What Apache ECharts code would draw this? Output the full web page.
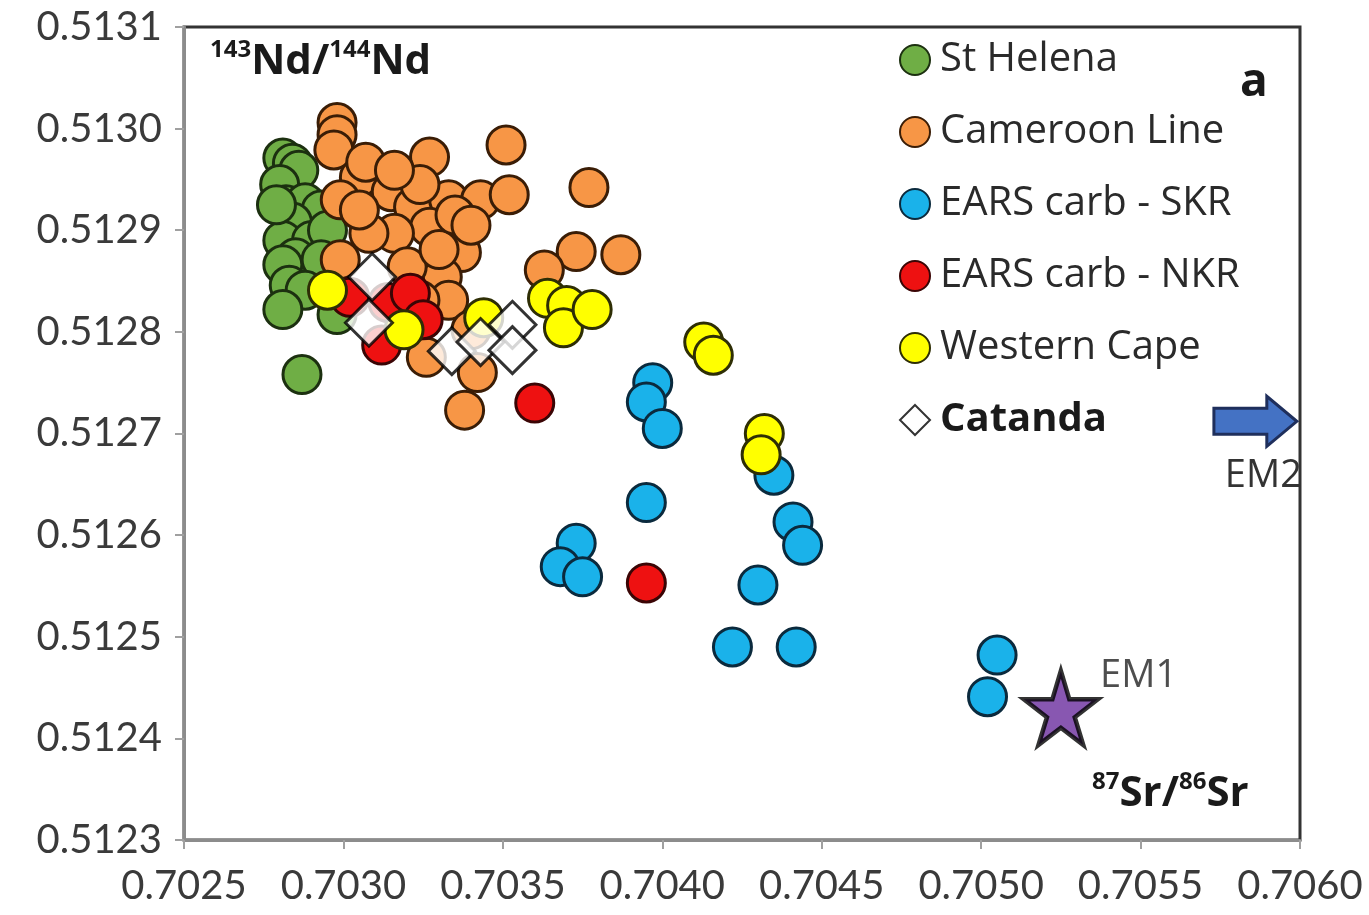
<!DOCTYPE html>
<html lang="en">
<head>
<meta charset="UTF-8">
<title>Sr-Nd isotopes</title>
<style>html,body{margin:0;background:#fff;}</style>
</head>
<body>
<div id="app" style="width:1369px;height:915px;"></div>
<script src="https://cdn.jsdelivr.net/npm/echarts@6/dist/echarts.min.js"></script>
<script>
// [87Sr/86Sr, 143Nd/144Nd]
const stHelena = [
  [0.70281,0.512971],[0.70284,0.512966],[0.70286,0.512959],[0.70280,0.512945],
  [0.70282,0.512925],[0.70288,0.512927],[0.70293,0.512920],[0.70284,0.512908],
  [0.70281,0.512890],[0.70290,0.512890],[0.70295,0.512900],[0.70285,0.512873],
  [0.70281,0.512866],[0.70293,0.512871],[0.70283,0.512846],[0.70288,0.512841],
  [0.70281,0.512822],[0.70298,0.512817],[0.70287,0.512758],[0.70279,0.512925]
];
const cameroonLine = [
  [0.70298,0.513006],[0.70298,0.512994],[0.70297,0.512979],[0.70305,0.512952],
  [0.70307,0.512967],[0.70315,0.512938],[0.70327,0.512972],[0.70299,0.512930],
  [0.70322,0.512923],[0.70333,0.512930],[0.70343,0.512930],[0.70327,0.512903],
  [0.70316,0.512897],[0.70308,0.512897],[0.70337,0.512878],[0.70331,0.512854],
  [0.70320,0.512864],[0.70299,0.512871],[0.70351,0.512984],[0.70352,0.512935],
  [0.70377,0.512942],[0.70373,0.512879],[0.70387,0.512876],[0.70363,0.512861],
  [0.70338,0.512723],[0.70326,0.512775],[0.70342,0.512760],[0.70333,0.512831],
  [0.70330,0.512881],[0.70324,0.512945],[0.70335,0.512915],[0.70316,0.512959],
  [0.70305,0.512920],[0.70340,0.512905],[0.70324,0.512831],[0.70340,0.512802]
];
const earsSKR = [
  [0.70397,0.512750],[0.70395,0.512731],[0.70400,0.512705],[0.70395,0.512632],
  [0.70373,0.512592],[0.70368,0.512569],[0.70375,0.512559],[0.70435,0.512659],
  [0.70441,0.512613],[0.70444,0.512590],[0.70430,0.512551],[0.70422,0.512490],
  [0.70442,0.512490],[0.70505,0.512482],[0.70502,0.512441]
];
const earsNKR = [
  [0.70302,0.512834],[0.70314,0.512829],[0.70321,0.512838],[0.70325,0.512812],
  [0.70312,0.512787],[0.70360,0.512730],[0.70395,0.512553]
];
const westernCape = [
  [0.70295,0.512841],[0.70319,0.512802],[0.70344,0.512814],[0.70364,0.512833],
  [0.70370,0.512826],[0.70369,0.512804],[0.70378,0.512822],[0.70413,0.512790],
  [0.70416,0.512777],[0.70432,0.512700],[0.70431,0.512679]
];
const catanda = [
  [0.70309,0.512854],[0.70308,0.512809],[0.70334,0.512781],[0.70343,0.512790],
  [0.70353,0.512807],[0.70353,0.512782]
];
const em1 = [[0.70525,0.51243]];
const em2Arrow = [[0.70573,0.512712],[0.70599,0.512712]];

const xMin = 0.7025, xMax = 0.7060, xStep = 0.0005;
const yMin = 0.5123, yMax = 0.5131, yStep = 0.0001;

const starPath = 'path://M50,0 L61,35 L98,35 L68,57 L79,91 L50,70 L21,91 L32,57 L2,35 L39,35 Z';
const fontTxt = 'Open Sans';

function dots(name, data, fill, edge) {
  return {
    name: name, type: 'scatter', data: data, symbol: 'circle', symbolSize: 38,
    itemStyle: {color: fill, borderColor: edge, borderWidth: 3, opacity: 1},
    emphasis: {disabled: true}
  };
}

function isoLabel(id, left, top, a, el, b) {
  const sup = {fontFamily: fontTxt, fontSize: 24, fontWeight: 'bold', fill: '#1a1a1a', verticalAlign: 'top', lineHeight: 24};
  const big = {fontFamily: fontTxt, fontSize: 42, fontWeight: 'bold', fill: '#1a1a1a', lineHeight: 48};
  return {
    type: 'text', id: id, left: left, top: top,
    style: {text: '{s|' + a + '}{n|' + el + '/}{s|' + b + '}{n|' + el + '}', rich: {s: sup, n: big}}
  };
}

const myChart = echarts.init(document.getElementById('app'));
const axisLabelStyle = {fontFamily: 'Lato', fontSize: 40, color: '#3a3a3a'};

const options = {
  animation: false,
  backgroundColor: '#fff',
  grid: {left: 184, right: 69, top: 27, bottom: 75, show: true,
    borderColor: '#333', borderWidth: 3, backgroundColor: 'transparent'},
  xAxis: {
    type: 'value', min: xMin, max: xMax, interval: xStep,
    axisLine: {show: true, onZero: false, lineStyle: {color: '#8c8c8c', width: 3}},
    axisTick: {show: true, length: 9, lineStyle: {color: '#a0a0a0', width: 2}},
    splitLine: {show: false},
    axisLabel: Object.assign({margin: 26, formatter: v => v.toFixed(4)}, axisLabelStyle)
  },
  yAxis: {
    type: 'value', min: yMin, max: yMax, interval: yStep,
    axisLine: {show: true, onZero: false, lineStyle: {color: '#8c8c8c', width: 3}},
    axisTick: {show: true, length: 9, lineStyle: {color: '#a0a0a0', width: 2}},
    splitLine: {show: false},
    axisLabel: Object.assign({margin: 22, formatter: v => v.toFixed(4)}, axisLabelStyle)
  },
  legend: {
    orient: 'vertical', left: 894, top: 35, itemGap: 32, itemWidth: 30, itemHeight: 30,
    selectedMode: false,
    textStyle: {fontFamily: fontTxt, fontSize: 40, color: '#2a2a2a', padding: [0, 0, 0, 5],
      rich: {b: {fontFamily: fontTxt, fontSize: 40, fontWeight: 'bold', color: '#1a1a1a'}}},
    formatter: n => n === 'Catanda' ? '{b|Catanda}' : n,
    data: ['St Helena', 'Cameroon Line', 'EARS carb - SKR', 'EARS carb - NKR', 'Western Cape',
      {name: 'Catanda', icon: 'diamond'}]
  },
  series: [
    dots('St Helena', stHelena, '#6fae45', '#1c3010'),
    dots('Cameroon Line', cameroonLine, '#f79646', '#3a1d06'),
    dots('EARS carb - SKR', earsSKR, '#1ab2ea', '#0b2a3d'),
    dots('EARS carb - NKR', earsNKR, '#ee1111', '#3a0505'),
    dots('Western Cape', westernCape, '#ffff00', '#2e2e05'),
    {
      name: 'Catanda', type: 'scatter', data: catanda, symbol: 'diamond', symbolSize: 47,
      itemStyle: {color: '#ffffff', borderColor: '#000', borderWidth: 3},
      emphasis: {disabled: true}
    },
    {
      name: 'EM1', type: 'scatter', data: em1, symbol: starPath, symbolSize: 74,
      itemStyle: {color: '#6a2d9e', borderColor: '#000', borderWidth: 4.5},
      label: {show: true, formatter: 'EM1', position: 'right', distance: 0, offset: [0, -32],
        fontFamily: fontTxt, fontSize: 38, color: '#222'},
      emphasis: {disabled: true}
    }
  ],
  graphic: [
    isoLabel('ndLabel', 210, 38, '143', 'Nd', '144'),
    isoLabel('srLabel', 1092, 770, '87', 'Sr', '86'),
    {
      type: 'text', id: 'panel', left: 1240, top: 60,
      style: {text: 'a', fontFamily: fontTxt, fontSize: 46, fontWeight: 'bold', fill: '#1a1a1a'}
    }
  ]
};
myChart.setOption(options);

// EM2 arrow drawn in data space
const p0 = myChart.convertToPixel({gridIndex: 0}, em2Arrow[0]);
const p1 = myChart.convertToPixel({gridIndex: 0}, em2Arrow[1]);
const sh = 13, hh = 25, hl = 30;
const xb = p1[0] - hl, cy = p0[1];
myChart.setOption({
  graphic: [
    {
      type: 'polygon', id: 'em2Arrow', z: 10,
      shape: {points: [[p0[0], cy - sh], [xb, cy - sh], [xb, cy - hh], [p1[0], cy], [xb, cy + hh], [xb, cy + sh], [p0[0], cy + sh]]},
      style: {fill: '#4472c4', stroke: '#1f2f5c', lineWidth: 3}
    },
    {
      type: 'text', id: 'em2Text', z: 10, x: (p0[0] + p1[0]) / 2 + 8, y: cy + 55,
      style: {text: 'EM2', fontFamily: fontTxt, fontSize: 38, fill: '#333', align: 'center', verticalAlign: 'middle'}
    }
  ]
});
</script>
</body>
</html>
